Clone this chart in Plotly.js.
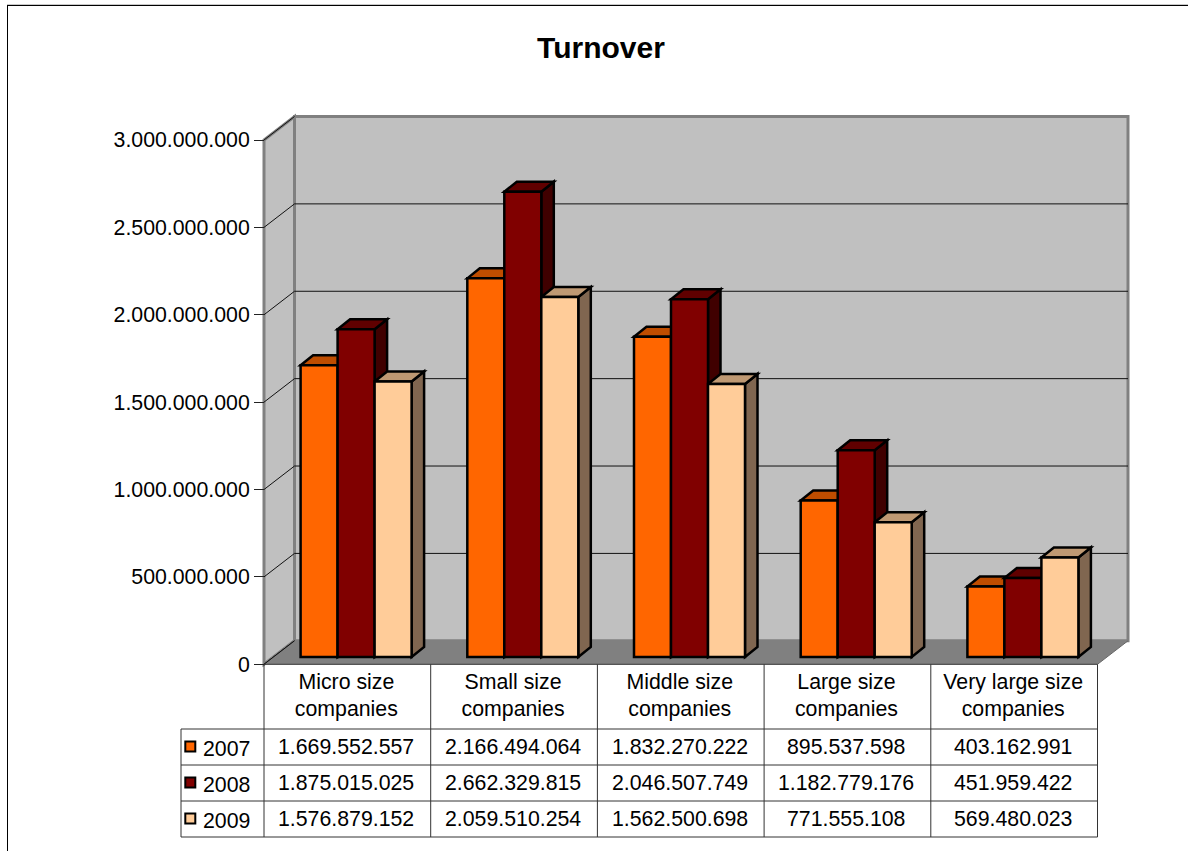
<!DOCTYPE html>
<html>
<head>
<meta charset="utf-8">
<script src="https://cdn.plot.ly/plotly-3.0.1.min.js"></script>
<style>html,body{margin:0;padding:0;background:#fff;overflow:hidden}#chart{width:1188px;height:851px}</style>
</head>
<body>
<div id="chart"></div>
<script>
const categories = ["Micro size<br>companies","Small size<br>companies","Middle size<br>companies","Large size<br>companies","Very large size<br>companies"];
const years = ["2007","2008","2009"];
const values2007 = [1669552557,2166494064,1832270222,895537598,403162991];
const values2008 = [1875015025,2662329815,2046507749,1182779176,451959422];
const values2009 = [1576879152,2059510254,1562500698,771555108,569480023];
const tickValues = [0,500000000,1000000000,1500000000,2000000000,2500000000,3000000000];
const frontColors = ["#FF6600","#800000","#FFCC99"];
const topColors = ["#BF4D00","#600000","#BF9973"];
const sideColors = ["#803300","#400000","#806650"];
const seriesValues = [values2007,values2008,values2009];

const W = 1188, H = 851;
const X0 = 264, Y0 = 664.3, CAT = 166.7, VALPX = 524.3 / 3e9;
const px2x = p => (p - X0) / CAT;
const px2y = p => (Y0 - p) / VALPX;
const lenX = p => p / CAT;
const lenY = p => p / VALPX;

const wallDX = lenX(30.5), wallDY = lenY(23.5);
const barW = lenX(37), barStart = lenX(36.6), barDX = lenX(12.5), barDY = lenY(10), barBase = lenY(7.3);
const labelShift = lenX(-1);
const nCat = categories.length;
const dotted = v => String(v).replace(/\B(?=(\d{3})+(?!\d))/g, ".");
const font = "Liberation Sans, Arial, sans-serif";

const poly = (pts, fill, lineColor, lineWidth) => ({
  type: "path", xref: "x", yref: "y", layer: "below",
  path: "M" + pts.map(p => p[0] + "," + p[1]).join(" L") + " Z",
  fillcolor: fill, line: {color: lineColor || fill, width: lineWidth === undefined ? 0 : lineWidth}
});
const seg = (x0, y0, x1, y1, color, width) => ({
  type: "line", xref: "x", yref: "y", layer: "below", x0, y0, x1, y1, line: {color, width}
});

const shapes = [];
const axisTop = 3e9;
// walls
shapes.push(poly([[wallDX,wallDY],[nCat+wallDX,wallDY],[nCat+wallDX,axisTop+wallDY],[wallDX,axisTop+wallDY]], "#C0C0C0", "#808080", 3));
shapes.push(poly([[0,0],[wallDX,wallDY],[wallDX,axisTop+wallDY],[0,axisTop]], "#C0C0C0", "#808080", 3));
// gridlines
tickValues.forEach(t => {
  if (t > 0 && t < axisTop) shapes.push(seg(wallDX, t+wallDY, nCat+wallDX, t+wallDY, "#111", 1));
  if (t < axisTop) shapes.push(seg(0, t, wallDX, t+wallDY, "#111", 1));
});
shapes.push(seg(0, axisTop, wallDX, axisTop+wallDY, "#111", 1));
// floor
shapes.push(poly([[0,0],[nCat,0],[nCat+wallDX,wallDY],[wallDX,wallDY]], "#808080", "#808080", 0));
shapes.push(seg(0, 0, wallDX, wallDY, "#111", 1));
shapes.push(seg(nCat, 0, nCat+wallDX, wallDY, "#666", 1));
// bar depth faces
seriesValues.forEach((vals, k) => {
  vals.forEach((v, i) => {
    const xl = i + barStart + k*barW, xr = xl + barW;
    const yb = barBase, yt = barBase + v;
    shapes.push(poly([[xr,yb],[xr+barDX,yb+barDY],[xr+barDX,yt+barDY],[xr,yt]], sideColors[k], "#000", 2.5));
    shapes.push(poly([[xl,yt],[xl+barDX,yt+barDY],[xr+barDX,yt+barDY],[xr,yt]], topColors[k], "#000", 2.5));
  });
});
// table grid
const rowY = [664.3, 729, 765, 801, 837];
const tableLeft = 181;
const lineCol = "#333";
rowY.forEach((r, j) => shapes.push(seg(j === 0 ? 0 : px2x(tableLeft), px2y(r), nCat, px2y(r), lineCol, 1)));
for (let i = 0; i <= nCat; i++) shapes.push(seg(i, 0, i, px2y(837), lineCol, 1));
shapes.push(seg(px2x(tableLeft), px2y(729), px2x(tableLeft), px2y(837), lineCol, 1));
// outer frame
const frame = (x0,y0,x1,y1,color) => ({type:"line",xref:"paper",yref:"paper",layer:"below",x0:x0/W,y0:1-y0/H,x1:x1/W,y1:1-y1/H,line:{color,width:1}});
shapes.push(frame(7,4.5,W,4.5,"#c8c8c8"), frame(7.5,5.5,7.5,H,"#000"), frame(7,5.5,W,5.5,"#000"));

const traces = seriesValues.map((vals, k) => ({
  type: "bar", name: years[k],
  x: vals.map((_, i) => i + barStart + (k + 0.5) * barW),
  y: vals, base: vals.map(() => barBase), width: barW,
  marker: {color: frontColors[k], line: {color: "#000", width: 2.5}},
  hovertemplate: years[k] + ": %{y:,d}<extra></extra>", showlegend: false
}));
// legend keys in the data table
traces.push({
  type: "scatter", mode: "markers", hoverinfo: "skip", showlegend: false,
  x: years.map(() => px2x(190.3)),
  y: years.map((_, k) => px2y((rowY[k+1] + rowY[k+2]) / 2 - 0.5)),
  marker: {symbol: "square", size: 10, color: frontColors, line: {color: "#000", width: 2}}
});

const annotations = [];
const textFont = {family: font, size: 21.3, color: "#000"};
seriesValues.forEach((vals, k) => {
  const yc = px2y((rowY[k+1] + rowY[k+2]) / 2);
  annotations.push({x: px2x(200.5), y: px2y((rowY[k+1] + rowY[k+2]) / 2 + 2), xref:"x", yref:"y", text: years[k], showarrow:false, xanchor:"left", yanchor:"middle", font:textFont});
  vals.forEach((v, i) => annotations.push({x: i + 0.5 + labelShift, y: yc, xref:"x", yref:"y", text: dotted(v), showarrow:false, xanchor:"center", yanchor:"middle", font:textFont}));
});

const layout = {
  width: W, height: H, margin: {l:0,r:0,t:0,b:0,pad:0},
  paper_bgcolor: "#fff", plot_bgcolor: "rgba(0,0,0,0)",
  separators: ",.",
  title: {text: "Turnover", x: 601/W, xanchor: "center", y: 1-47/H, yanchor: "middle", font: {family: font, size: 30, weight: 700, color: "#000"}},
  barmode: "overlay", hovermode: "closest", showlegend: false,
  xaxis: {
    domain: [0,1], range: [px2x(0), px2x(W)], fixedrange: true,
    tickmode: "array", tickvals: categories.map((_, i) => i + 0.5 + labelShift), ticktext: categories,
    tickangle: 0, ticks: "", showgrid: false, zeroline: false, showline: false, ticklabelstandoff: 2,
    anchor: "free", position: 1 - Y0/H, side: "bottom", tickfont: textFont, automargin: false
  },
  yaxis: {
    domain: [0,1], range: [px2y(H), px2y(0)], fixedrange: true,
    tickmode: "array", tickvals: tickValues, tickformat: ",d",
    ticks: "outside", ticklen: 10, tickwidth: 1, tickcolor: "#222",
    showgrid: false, zeroline: false, showline: false,
    anchor: "free", position: X0/W, side: "left", tickfont: textFont, automargin: false
  },
  shapes, annotations
};
Plotly.newPlot("chart", traces, layout, {displayModeBar: false, staticPlot: false});
</script>
</body>
</html>
